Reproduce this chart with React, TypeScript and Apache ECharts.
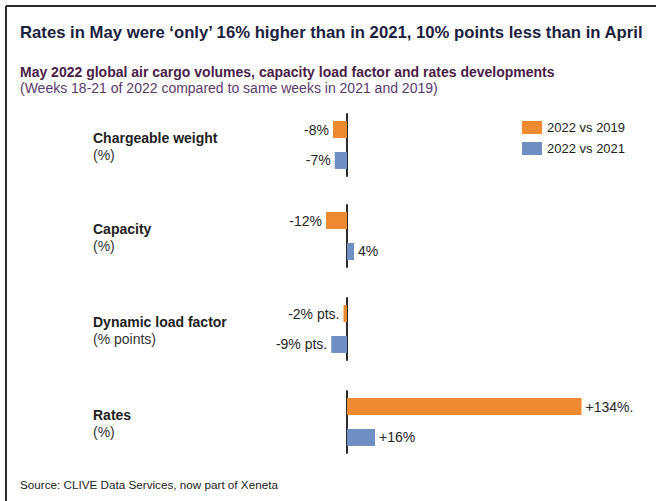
import React, { useEffect, useRef } from "react";
import * as echarts from "echarts";

const categories = ["Chargeable weight", "Capacity", "Dynamic load factor", "Rates"];
const units = ["(%)", "(%)", "(% points)", "(%)"];
const seriesNames = ["2022 vs 2019", "2022 vs 2021"];
const vs2019 = [-8, -12, -2, 134];
const vs2021 = [-7, 4, -9, 16];
const vs2019Labels = ["-8%", "-12%", "-2% pts.", "+134%."];
const vs2021Labels = ["-7%", "4%", "-9% pts.", "+16%"];

const FONT = "'Liberation Sans', Arial, Helvetica, sans-serif";
const ORANGE = "#ee8a2f";
const BLUE = "#6f8ec4";

export default function App() {
  const ref = useRef<HTMLDivElement>(null);
  useEffect(() => {
    if (!ref.current) return;
    const chart = echarts.init(ref.current, undefined, { renderer: "svg" });
    const tops = [114, 205, 298, 391];
    const gridH = 62;
    const grids = tops.map((t) => ({ left: 312, right: 46.5, top: t, height: gridH }));
    const xAxes = tops.map((_, i) => ({
      type: "value",
      gridIndex: i,
      min: -20,
      max: 150,
      show: false,
    }));
    const yAxes = tops.map((_, i) => ({
      type: "category",
      gridIndex: i,
      inverse: true,
      data: [categories[i]],
      axisLine: { show: true, onZero: true, lineStyle: { color: "#2b2b2b", width: 2 } },
      axisTick: { show: false },
      axisLabel: { show: false },
      splitLine: { show: false },
    }));
    const series: any[] = [];
    tops.forEach((_, i) => {
      [vs2019, vs2021].forEach((vals, s) => {
        const labels = s === 0 ? vs2019Labels : vs2021Labels;
        const v = vals[i];
        series.push({
          type: "bar",
          name: seriesNames[s],
          xAxisIndex: i,
          yAxisIndex: i,
          barWidth: 17,
          barGap: "82%",
          itemStyle: { color: s === 0 ? ORANGE : BLUE },
          data: [
            {
              value: v,
              label: {
                show: true,
                position: v < 0 ? "left" : "right",
                distance: 4,
                formatter: () => labels[i],
                color: "#262626",
                fontSize: 14,
                fontFamily: FONT,
              },
            },
          ],
        });
      });
    });
    const centers = tops.map((t) => t + gridH / 2);
    const graphic: any[] = [
      { type: "line", shape: { x1: 6, y1: 6, x2: 656, y2: 6 }, style: { stroke: "#2a2a2a", lineWidth: 2 } },
      { type: "line", shape: { x1: 6, y1: 6, x2: 6, y2: 501 }, style: { stroke: "#2a2a2a", lineWidth: 2 } },
      {
        type: "text",
        left: 20,
        top: 24,
        style: {
          text: "Rates in May were \u2018only\u2019 16% higher than in 2021, 10% points less than in April",
          font: `bold 16.7px ${FONT}`,
          fill: "#1b2140",
        },
      },
      {
        type: "text",
        left: 20,
        top: 65,
        style: {
          text: "May 2022 global air cargo volumes, capacity load factor and rates developments",
          font: `bold 14px ${FONT}`,
          fill: "#4a1d48",
        },
      },
      {
        type: "text",
        left: 20,
        top: 81,
        style: {
          text: "(Weeks 18-21 of 2022 compared to same weeks in 2021 and 2019)",
          font: `14px ${FONT}`,
          fill: "#5a3a6c",
        },
      },
      {
        type: "text",
        left: 20,
        top: 478,
        style: {
          text: "Source: CLIVE Data Services, now part of Xeneta",
          font: `11.7px ${FONT}`,
          fill: "#222",
        },
      },
    ];
    categories.forEach((c, i) => {
      graphic.push({
        type: "text",
        x: 93,
        y: centers[i] - 7,
        style: { text: c, font: `bold 14px ${FONT}`, fill: "#222", verticalAlign: "middle" },
      });
      graphic.push({
        type: "text",
        x: 93,
        y: centers[i] + 10,
        style: { text: units[i], font: `14px ${FONT}`, fill: "#333", verticalAlign: "middle" },
      });
    });
    chart.setOption({
      animation: false,
      backgroundColor: "#ffffff",
      legend: {
        orient: "vertical",
        left: 517,
        top: 116,
        itemWidth: 20,
        itemHeight: 13,
        itemGap: 8,
        icon: "rect",
        data: seriesNames,
        textStyle: { fontFamily: FONT, fontSize: 13, color: "#222" },
      },
      grid: grids,
      xAxis: xAxes,
      yAxis: yAxes,
      series,
      graphic,
    });
    return () => chart.dispose();
  }, []);
  return (
    <div
      ref={ref}
      style={{ position: "absolute", left: 0, top: 0, width: 656, height: 501 }}
    />
  );
}
